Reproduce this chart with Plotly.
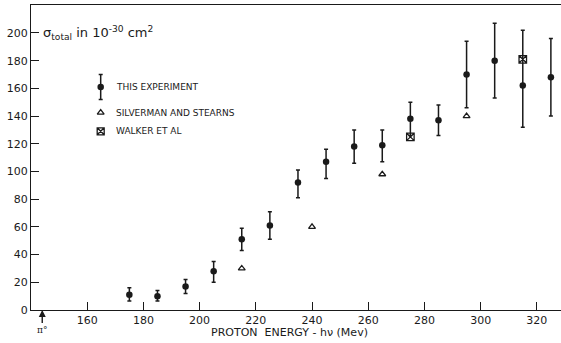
import plotly.graph_objects as go

# This experiment
energy = [175, 185, 195, 205, 215, 225, 235, 245, 255, 265, 275, 285, 295, 305, 315, 325]
sigma = [11, 10, 17, 28, 51, 61, 92, 107, 118, 119, 138, 137, 170, 180, 162, 168]
sigma_hi = [16, 14, 22, 35, 59, 71, 101, 116, 130, 130, 150, 148, 194, 207, 202, 196]
sigma_lo = [6.5, 6.5, 12, 20, 43, 51, 81, 95, 106, 107, 126, 126, 146, 153, 132, 140]

# Silverman and Stearns
silv_e = [215, 240, 265, 295]
silv_s = [30, 60, 98, 140]

# Walker et al
walk_e = [275, 315]
walk_s = [125, 181]

xticks = [160, 180, 200, 220, 240, 260, 280, 300, 320]
yticks = [0, 20, 40, 60, 80, 100, 120, 140, 160, 180, 200]

legend_labels = ["THIS EXPERIMENT", "SILVERMAN AND STEARNS", "WALKER ET AL"]
legend_x = 164.8
legend_text_x = 169.5
legend_y = [161, 142.5, 129]

FONT = "DejaVu Sans"
INK = "#1a1a1a"

fig = go.Figure()

fig.add_trace(go.Scatter(
    x=energy, y=sigma, mode="markers",
    marker=dict(symbol="circle", size=6.5, color=INK),
    error_y=dict(type="data", symmetric=False,
                 array=[h - s for h, s in zip(sigma_hi, sigma)],
                 arrayminus=[s - l for s, l in zip(sigma, sigma_lo)],
                 color=INK, thickness=1.5, width=2),
    showlegend=False))

fig.add_trace(go.Scatter(
    x=silv_e, y=silv_s, mode="markers",
    marker=dict(symbol="triangle-up-open", size=6, color=INK, line=dict(width=1.3)),
    showlegend=False))

fig.add_trace(go.Scatter(
    x=walk_e, y=walk_s, mode="markers",
    marker=dict(symbol="square-x-open", size=7.5, color=INK, line=dict(width=1.3)),
    showlegend=False))

# manual legend symbols
fig.add_trace(go.Scatter(
    x=[legend_x], y=[legend_y[0]], mode="markers",
    marker=dict(symbol="circle", size=6.5, color=INK),
    error_y=dict(type="data", array=[9], color=INK, thickness=1.5, width=2),
    showlegend=False))
fig.add_trace(go.Scatter(
    x=[legend_x], y=[legend_y[1]], mode="markers",
    marker=dict(symbol="triangle-up-open", size=6, color=INK, line=dict(width=1.3)),
    showlegend=False))
fig.add_trace(go.Scatter(
    x=[legend_x], y=[legend_y[2]], mode="markers",
    marker=dict(symbol="square-x-open", size=7, color=INK, line=dict(width=1.3)),
    showlegend=False))

annotations = []
for lbl, yy in zip(legend_labels, legend_y):
    annotations.append(dict(x=legend_text_x, y=yy, text=lbl, showarrow=False,
                            xanchor="left", yanchor="middle",
                            font=dict(family=FONT, size=9, color=INK)))

annotations.append(dict(x=143.5, y=200, xanchor="left", yanchor="middle", showarrow=False,
                        text="σ<sub>total</sub> in 10<sup>-30</sup> cm<sup>2</sup>",
                        font=dict(family=FONT, size=13, color=INK)))

annotations.append(dict(x=144, y=0, text="π°", showarrow=True, ax=0, ay=13,
                        arrowhead=2, arrowsize=1, arrowwidth=1.4, arrowcolor=INK,
                        font=dict(family="DejaVu Serif", size=9, color=INK),
                        yanchor="top"))

annotations.append(dict(x=232, xref="x", y=0, yref="paper", yanchor="middle", yshift=-22,
                        showarrow=False, text="PROTON  ENERGY - hν (Mev)",
                        font=dict(family=FONT, size=11, color=INK)))

fig.update_layout(
    width=561, height=343,
    margin=dict(l=31, r=0, t=5, b=33),
    paper_bgcolor="white", plot_bgcolor="white",
    annotations=annotations,
    font=dict(family=FONT, color=INK),
    xaxis=dict(range=[140, 328.6], tickvals=xticks, ticks="inside", ticklen=8,
               tickwidth=1.3, tickcolor=INK, showgrid=False, zeroline=False,
               showline=True, linecolor=INK, linewidth=1.3, mirror=True,
               tickfont=dict(family=FONT, size=11, color=INK)),
    yaxis=dict(range=[0, 220.2], tickvals=yticks, ticks="inside", ticklen=8,
               tickwidth=1.3, tickcolor=INK, showgrid=False, zeroline=False,
               showline=True, linecolor=INK, linewidth=1.3,
               tickfont=dict(family=FONT, size=11, color=INK)),
)

fig.write_html("out.html")
